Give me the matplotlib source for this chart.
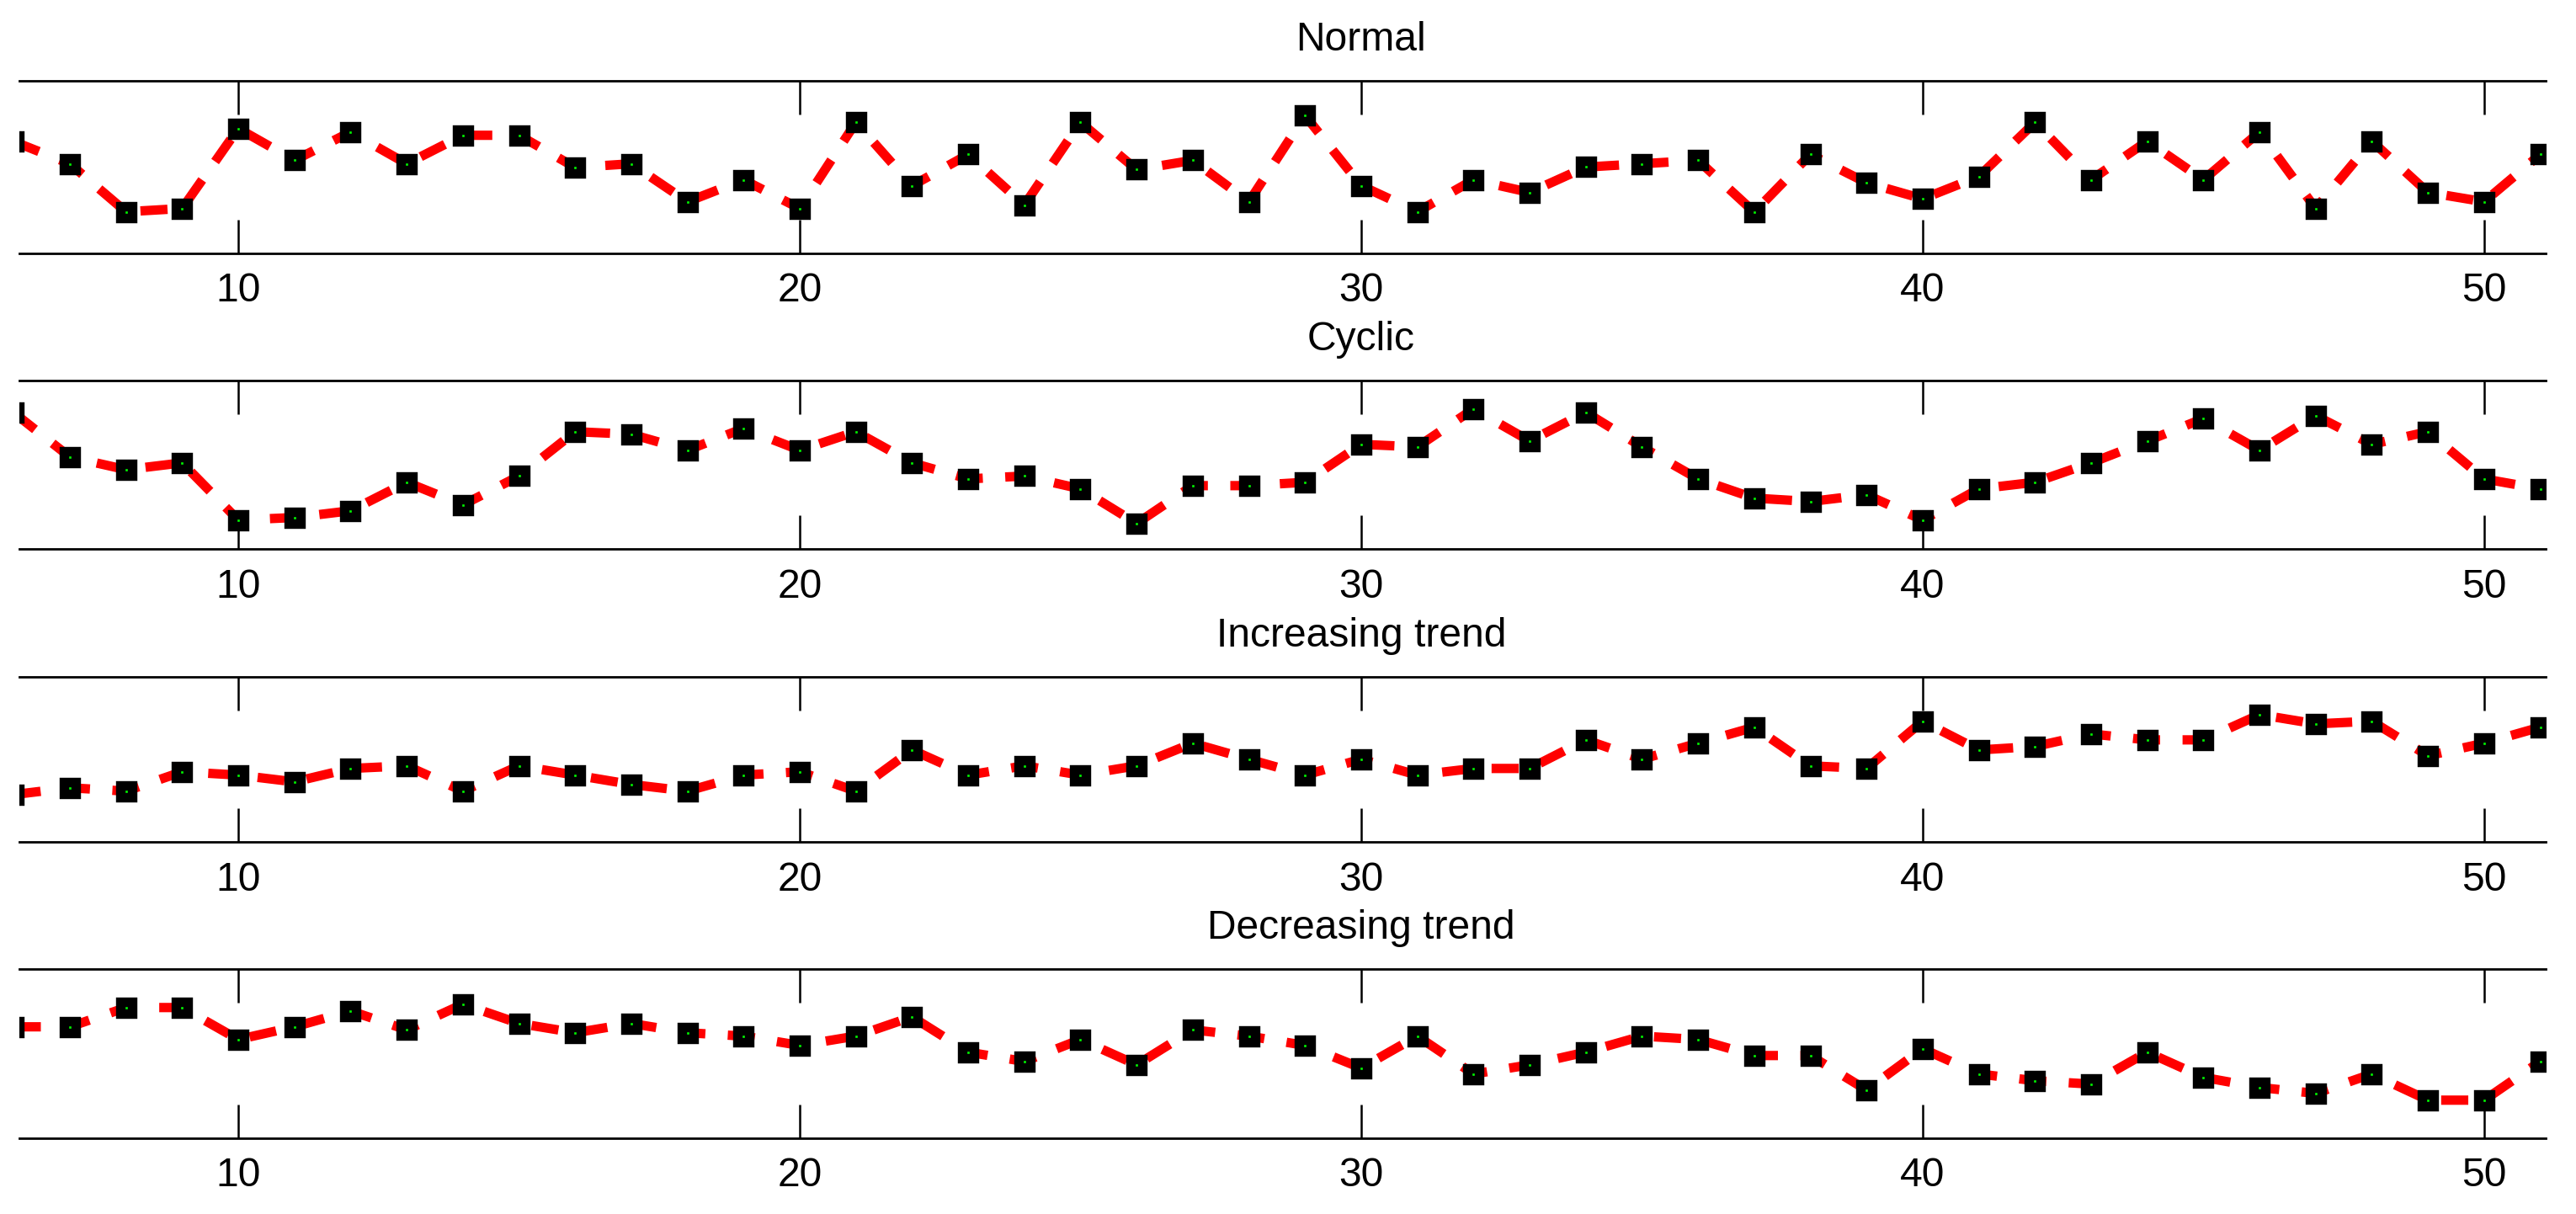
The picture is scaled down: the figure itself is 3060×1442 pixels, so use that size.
import numpy as np
import matplotlib
matplotlib.use('Agg')
import matplotlib.pyplot as plt

plt.rcParams['font.family'] = ['Liberation Sans', 'DejaVu Sans']

# sample index shown on the x axis
samples = list(range(6, 52))

# values (no y scale shown, 0..100 = bottom..top of each panel)
normal = [64.8, 51.9, 24.1, 26.0, 72.3, 53.9, 70.3, 51.9, 68.4, 68.4,
          49.8, 51.9, 29.9, 42.6, 26.0, 75.9, 39.2, 57.3, 28.0, 75.9,
          48.5, 53.9, 29.9, 79.8, 39.2, 24.1, 42.6, 35.3, 50.0, 51.9,
          53.9, 23.9, 57.3, 40.9, 31.6, 44.5, 75.9, 42.6, 65.0, 42.6,
          70.3, 26.0, 65.0, 35.3, 29.9, 57.3]
cyclic = [81.0, 54.7, 47.2, 51.2, 17.3, 18.8, 22.8, 39.7, 26.3, 43.4,
          69.7, 68.2, 58.7, 71.7, 58.7, 69.7, 51.2, 41.7, 43.4, 35.8,
          15.3, 37.7, 37.7, 39.7, 62.2, 60.7, 83.2, 64.2, 81.2, 60.7,
          41.7, 30.3, 28.3, 32.3, 17.3, 35.8, 39.7, 51.2, 64.2, 77.5,
          58.7, 79.2, 62.2, 69.7, 41.7, 35.8]
increasing = [28.8, 32.9, 30.9, 42.6, 40.6, 36.5, 44.6, 46.2, 30.9, 46.2,
              40.6, 34.9, 30.9, 40.6, 42.6, 30.9, 55.8, 40.6, 46.2, 40.6,
              46.2, 59.9, 50.2, 40.6, 50.2, 40.6, 44.6, 44.6, 61.9, 50.2,
              59.9, 69.6, 46.2, 44.6, 73.2, 55.8, 57.9, 65.5, 61.9, 61.9,
              77.2, 71.6, 73.2, 52.3, 59.9, 69.6]
decreasing = [65.8, 65.8, 77.2, 77.2, 58.3, 65.8, 75.2, 64.0, 79.2, 67.8,
              62.3, 67.8, 62.3, 60.3, 54.8, 60.3, 71.7, 50.8, 45.3, 58.3,
              43.3, 64.0, 60.3, 54.8, 41.4, 60.3, 37.9, 43.3, 50.8, 60.3,
              58.3, 48.8, 48.8, 28.4, 52.8, 37.9, 33.9, 31.9, 50.8, 35.9,
              29.9, 26.4, 37.9, 22.4, 22.4, 45.3]

titles = ['Normal', 'Cyclic', 'Increasing trend', 'Decreasing trend']
series = [normal, cyclic, increasing, decreasing]
xticks = [10, 20, 30, 40, 50]

# axes boxes in figure fractions [left, bottom, width, height]
boxes = [[0.0075, 0.7913, 0.9808, 0.1422],
         [0.0075, 0.5476, 0.9808, 0.1389],
         [0.0075, 0.3063, 0.9808, 0.1361],
         [0.0075, 0.0626, 0.9808, 0.1392]]

xmin, xmax = 6.1, 51.1

fig = plt.figure(figsize=(15.3, 7.21), dpi=200)

for box, name, vals in zip(boxes, titles, series):
    ax = fig.add_axes(box)
    ax.plot(samples, vals, color='red', linestyle='--', dashes=(2.9, 2.4),
            linewidth=4, marker='s', markersize=5.2, markeredgewidth=4.1,
            markeredgecolor='black', markerfacecolor='#00ff00')
    ax.set_xlim(xmin, xmax)
    ax.set_ylim(0, 100)
    ax.set_xticks(xticks)
    ax.set_yticks([])
    ax.tick_params(axis='x', direction='in', top=True, bottom=True,
                   length=14.4, width=0.9, labelsize=17.3, pad=8)
    ax.spines['left'].set_visible(False)
    ax.spines['right'].set_visible(False)
    ax.spines['top'].set_linewidth(1.0)
    ax.spines['bottom'].set_linewidth(1.0)
    ax.set_title(name, fontsize=17.3, pad=13, x=(30 - xmin) / (xmax - xmin))

fig.savefig('out.png', dpi=200)
